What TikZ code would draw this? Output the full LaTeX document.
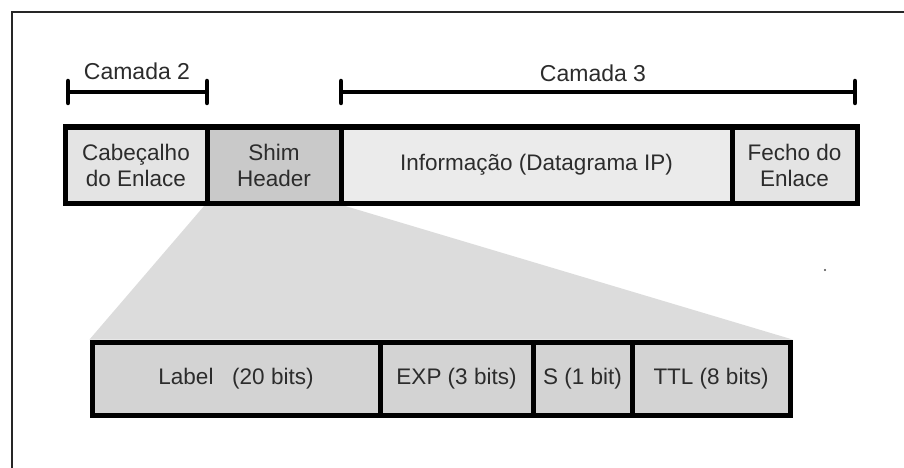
\documentclass[tikz,border=0pt]{standalone}
\usepackage{fontspec}
\setmainfont{Liberation Sans}
\usetikzlibrary{backgrounds}
\definecolor{txt}{HTML}{2C2C2C}
\definecolor{hdrfill}{HTML}{E4E4E4}
\definecolor{shimfill}{HTML}{C9C9C9}
\definecolor{infofill}{HTML}{EBEBEB}
\definecolor{fieldfill}{HTML}{D3D3D3}
\definecolor{fanfill}{HTML}{DCDCDC}
\tikzset{
  field/.style={draw=black, line width=5pt, minimum height=#1, inner sep=0pt,
    text=txt, font=\fontsize{22.5}{26}\selectfont, align=center},
  span/.style={line width=4pt, line cap=round},
  spancap/.style={line width=4.5pt, line cap=round},
  tag/.style={text=txt, font=\fontsize{23}{26}\selectfont, inner sep=0pt},
  frameline/.style={line width=2pt, draw=black!85}
}
\begin{document}
\begin{tikzpicture}[x=1pt, y=-1pt]
  \useasboundingbox (0,0) rectangle (904,468);

  % outer frame (top and left edges)
  \coordinate (fbl) at (12,468);
  \coordinate (ftl) at (12,12);
  \coordinate (ftr) at (904,12);
  \draw[frameline] (fbl) -- (ftl) -- (ftr);

  % frame of the link layer
  \node[field=76pt, minimum width=142pt, fill=hdrfill] (cab)  at (136,165)   {Cabeçalho\\do Enlace};
  \node[field=76pt, minimum width=134pt, fill=shimfill] (shim) at (274,165)  {Shim\\Header};
  \node[field=76pt, minimum width=391pt, fill=infofill] (info) at (536.5,165) {Informação (Datagrama IP)};
  \node[field=76pt, minimum width=125pt, fill=hdrfill] (fecho) at (794.5,165) {Fecho do\\Enlace};

  % fields of the shim header
  \node[field=73pt, minimum width=288pt, fill=fieldfill] (lbl) at (236,378.5)  {Label\ \ \ (20 bits)};
  \node[field=73pt, minimum width=153pt, fill=fieldfill] (exp) at (456.5,378.5) {EXP (3 bits)};
  \node[field=73pt, minimum width=99pt,  fill=fieldfill] (sb)  at (582.5,378.5) {S (1 bit)};
  \node[field=73pt, minimum width=158pt, fill=fieldfill] (ttl) at (711,378.5)   {TTL (8 bits)};

  % white page, then the expansion fan from the shim header down to its fields
  \begin{scope}[on background layer]
    \fill[white] (0,0) rectangle (904,468);
    \fill[fanfill] (shim.south west) -- (shim.south east) -- (ttl.north east) -- (lbl.north west) -- cycle;
  \end{scope}

  % layer spans
  \coordinate (c2a) at (68,92);
  \coordinate (c2b) at (207,92);
  \coordinate (c3a) at (341,92);
  \coordinate (c3b) at (855,92);
  \draw[span] (c2a) -- (c2b);
  \draw[span] (c3a) -- (c3b);
  \foreach \p in {c2a,c2b,c3a,c3b}
    \draw[spancap] ([yshift=-11pt]\p) -- ([yshift=11pt]\p);
  \node[tag] (l2) at (137,71) {Camada 2};
  \node[tag] (l3) at (593,73) {Camada 3};

  % small speck
  \fill[black!70] (825,270) circle (1.2pt);
\end{tikzpicture}
\end{document}
